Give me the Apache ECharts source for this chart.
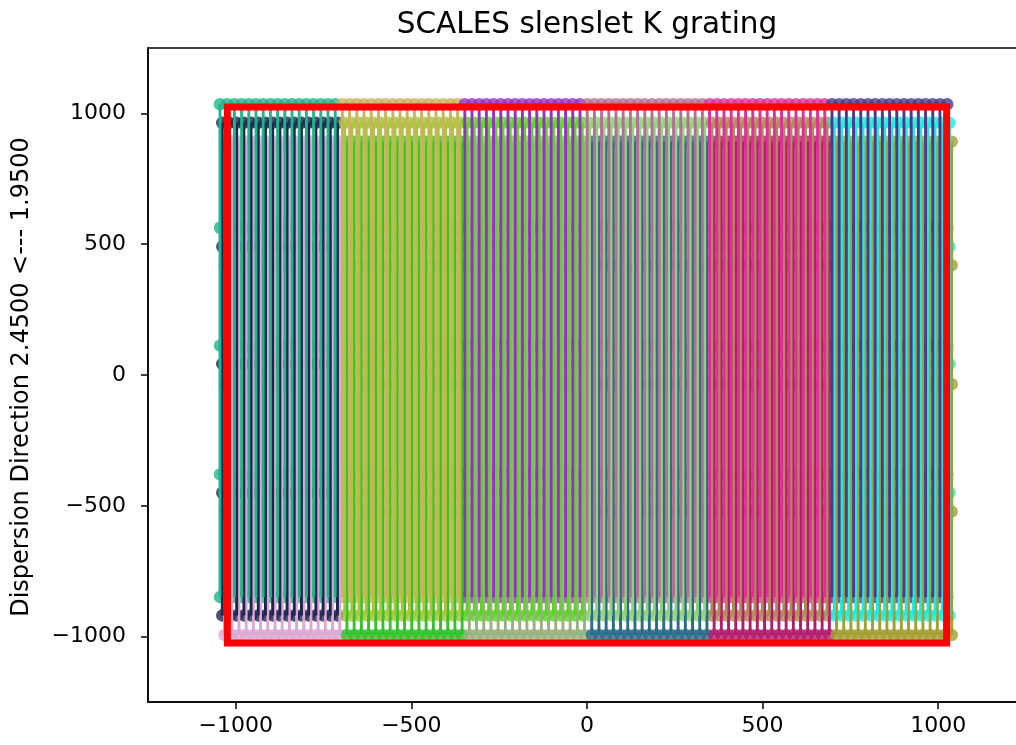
<!DOCTYPE html>
<html>
<head>
<meta charset="utf-8">
<script src="https://cdn.jsdelivr.net/npm/echarts@6/dist/echarts.min.js"></script>
<style>
  html, body { margin: 0; padding: 0; overflow: hidden; background: #ffffff; }
  #chart { width: 1030px; height: 745px; }
</style>
</head>
<body>
<div id="chart"></div>
<script>
// Left-most trace x of each slenslet group (detector pixels)
const groupLeft = [-1045, -696.5, -348, 0.5, 349, 697.5];
// Lenslet columns inside one group, relative to groupLeft
const lensletOffsets = [0, 20.5, 41, 61.5, 82, 102.5, 123, 143.5, 164, 184.5, 205, 225.5, 246, 266.5, 287, 307.5, 328];
// Small x shift of the three traces of a lenslet
const traceOffsets = [0, 6.5, 13];
// Marker positions along the dispersion direction for the three traces
const traceA = [1035, 563, 112, -380, -849];
const traceB = [964, 491, 42, -450, -919];
const traceC = [892, 420, -35, -522, -994];
// Colours of the traces, one row per group: [A, B, C]
const groupColors = [
  ['#1fb58a', '#1d2550', '#dca8d2'],
  ['#c9b35e', '#a8c63a', '#34c12c'],
  ['#9630c4', '#5dd425', '#98b27f'],
  ['#b46f94', '#90d27c', '#2b6b89'],
  ['#de2f9a', '#b08a55', '#b31c6d'],
  ['#4b3a8a', '#1fe8e0', '#a1a032']
];
// Detector outline
const detectorBox = [[-1024, -1024], [1024, -1024], [1024, 1024], [-1024, 1024], [-1024, -1024]];
const xTicks = [-1000, -500, 0, 500, 1000];
const yTicks = [-1000, -500, 0, 500, 1000];

const traces = [traceA, traceB, traceC];
const FONT = 'DejaVu Sans';
const fmt = v => (v < 0 ? '\u2212' + Math.abs(v) : String(v));

// Wavelength markers sit underneath; the traces are drawn over them,
// trace C first so that trace A ends up on top.
const markerSeries = [];
const traceSeries = [];
groupLeft.forEach((left, g) => {
  [2, 1, 0].forEach(s => {
    const ys = traces[s];
    const color = groupColors[g][s];
    const pts = [];
    lensletOffsets.forEach(off => {
      const x = left + off + traceOffsets[s];
      ys.forEach(y => pts.push([x, y]));
      traceSeries.push({
        type: 'line',
        data: ys.map(y => [x, y]),
        symbol: 'none',
        lineStyle: { width: 2.9, color: color },
        silent: true,
        emphasis: { disabled: true },
        animation: false,
        z: 3
      });
    });
    markerSeries.push({
      type: 'scatter',
      data: pts,
      symbol: 'circle',
      symbolSize: 12.5,
      itemStyle: { color: color },
      silent: true,
      emphasis: { disabled: true },
      animation: false,
      z: 2
    });
  });
});
const boxSeries = {
  type: 'line',
  data: detectorBox,
  symbol: 'none',
  lineStyle: { width: 7, color: '#ff0000', cap: 'square', join: 'miter' },
  silent: true,
  animation: false,
  z: 5
};

const chart = echarts.init(document.getElementById('chart'), null, { renderer: 'canvas' });
chart.setOption({
  animation: false,
  backgroundColor: '#ffffff',
  grid: {
    left: 148, top: 48, width: 878, height: 654,
    show: true, borderColor: '#000000', borderWidth: 1.5, backgroundColor: 'transparent'
  },
  xAxis: {
    type: 'value', min: -1250, max: 1250,
    axisLine: { show: true, onZero: false, lineStyle: { color: '#000', width: 1.5 } },
    axisTick: { show: true, length: 7, inside: false, customValues: xTicks, lineStyle: { color: '#000', width: 1.5 } },
    axisLabel: { customValues: xTicks, formatter: fmt, color: '#000', fontFamily: FONT, fontSize: 22, margin: 13 },
    splitLine: { show: false }
  },
  yAxis: {
    type: 'value', min: -1250, max: 1250,
    axisLine: { show: true, onZero: false, lineStyle: { color: '#000', width: 1.5 } },
    axisTick: { show: true, length: 7, inside: false, customValues: yTicks, lineStyle: { color: '#000', width: 1.5 } },
    axisLabel: { customValues: yTicks, formatter: fmt, color: '#000', fontFamily: FONT, fontSize: 22, margin: 22 },
    splitLine: { show: false }
  },
  graphic: [
    {
      type: 'text', x: 587, y: 25,
      style: { text: 'SCALES slenslet K grating', fill: '#000', font: '29.5px "DejaVu Sans"', textAlign: 'center', textVerticalAlign: 'middle' }
    },
    {
      type: 'text', x: 22, y: 377, rotation: Math.PI / 2,
      style: { text: 'Dispersion Direction 2.4500 <--- 1.9500', fill: '#000', font: '24px "DejaVu Sans"', textAlign: 'center', textVerticalAlign: 'middle' }
    }
  ],
  series: markerSeries.concat(traceSeries, [boxSeries])
});
</script>
</body>
</html>
